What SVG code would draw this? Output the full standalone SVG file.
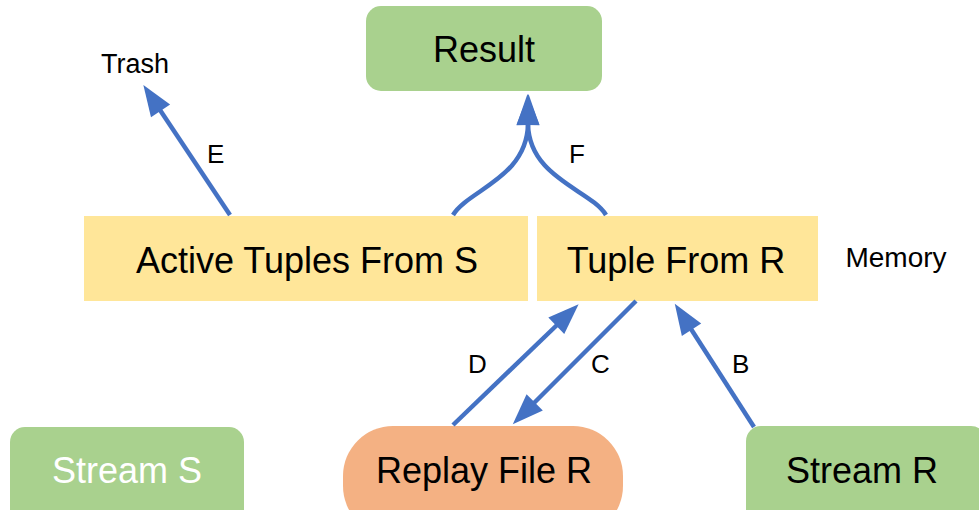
<svg xmlns="http://www.w3.org/2000/svg" width="979" height="510" viewBox="0 0 979 510">
  <style>
    .lbl { font-family: "Liberation Sans", Arial, sans-serif; fill: #000; }
    .big { font-size: 36px; text-anchor: middle; }
    .mid { font-size: 27px; text-anchor: middle; }
    .edge { font-size: 26px; }
    .green { fill: #A9D18E; }
    .yellow { fill: #FFE699; }
    .orange { fill: #F4B183; }
    .conn { fill: none; stroke: #4472C4; stroke-width: 4.5; marker-end: url(#head); }
  </style>
  <defs>
    <marker id="head" markerUnits="userSpaceOnUse" markerWidth="32" markerHeight="26" viewBox="0 -13 32 26" refX="1" refY="0" orient="auto" overflow="visible">
      <path d="M0,-11.5 L31,0 L0,11.5 Z" fill="#4472C4"/>
    </marker>
  </defs>

  <g id="result">
    <rect class="green" x="366" y="6" width="236" height="85" rx="15"/>
    <text class="lbl big" x="484" y="62">Result</text>
  </g>

  <g id="trash">
    <text class="lbl mid" x="135" y="73">Trash</text>
  </g>

  <g id="active-s">
    <rect class="yellow" x="84" y="216" width="444" height="85"/>
    <text class="lbl big" x="307" y="273">Active Tuples From S</text>
  </g>

  <g id="tuple-r">
    <rect class="yellow" x="537" y="216" width="281" height="85"/>
    <text class="lbl big" x="676" y="273">Tuple From R</text>
  </g>

  <g id="memory">
    <text class="lbl" x="896" y="267" font-size="28" text-anchor="middle">Memory</text>
  </g>

  <g id="stream-s">
    <rect class="green" x="10" y="427" width="234" height="110" rx="15"/>
    <text class="big" x="127" y="483" font-family="Liberation Sans, Arial, sans-serif" fill="#FFFFFF">Stream S</text>
  </g>

  <g id="replay-r">
    <rect class="orange" x="343" y="426" width="280" height="110" rx="50"/>
    <text class="lbl big" x="484" y="483">Replay File R</text>
  </g>

  <g id="stream-r">
    <rect class="green" x="746" y="426" width="240" height="110" rx="15"/>
    <text class="lbl big" x="862" y="483">Stream R</text>
  </g>

  <g id="connectors">
    <!-- E: active tuples to trash -->
    <path class="conn" d="M230,215 L160,110"/>
    <!-- F: both memory buffers join into the result -->
    <path class="conn" d="M453,215 C468,190 527,178 528,124"/>
    <path class="conn" d="M606,215 C591,190 529,178 528,124"/>
    <!-- D: replay file back into memory -->
    <path class="conn" d="M453,425 L557,325"/>
    <!-- C: memory spills to replay file -->
    <path class="conn" d="M636,301 L534,403"/>
    <!-- B: stream R into memory -->
    <path class="conn" d="M754,427 L691,329"/>
  </g>

  <g id="edge-labels">
    <text class="lbl edge" x="207" y="163">E</text>
    <text class="lbl edge" x="569" y="163">F</text>
    <text class="lbl edge" x="468" y="373">D</text>
    <text class="lbl edge" x="591" y="373">C</text>
    <text class="lbl edge" x="732" y="373">B</text>
  </g>
</svg>
